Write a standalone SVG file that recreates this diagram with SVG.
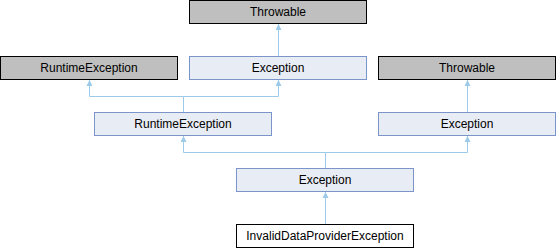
<svg xmlns="http://www.w3.org/2000/svg" width="557" height="248" viewBox="0 0 557 248">
  <style>
    .ext rect { fill: #bfbfbf; stroke: #000000; stroke-width: 1; }
    .cls rect { fill: #e8ecf5; stroke: #7b95cb; stroke-width: 1; }
    .cur rect { fill: #ffffff; stroke: #000000; stroke-width: 1; }
    text { font-family: "Liberation Sans", Arial, sans-serif; font-size: 12px; fill: #000000; text-anchor: middle; }
    .edge { fill: none; stroke: #9ccae8; stroke-width: 1; marker-end: url(#inherit); }
    .stub { fill: none; stroke: #9ccae8; stroke-width: 1; }
  </style>
  <defs>
    <!-- small filled head, pointing along the line toward the base class -->
    <marker id="inherit" viewBox="0 0 6 7" refX="6" refY="3.5" markerWidth="6" markerHeight="7" markerUnits="userSpaceOnUse" orient="auto">
      <path d="M0,0.5 L6,3.5 L0,6.5 Z" fill="#9ccae8"/>
    </marker>
  </defs>

  <!-- inheritance connectors -->
  <g id="connectors">
    <path class="edge" d="M278.5,56 V24"/>
    <path class="edge" d="M183.5,112 V96.5 H89.5 V80"/>
    <path class="edge" d="M183.5,96.5 H278.5 V80"/>
    <path class="edge" d="M467.5,112 V80"/>
    <path class="edge" d="M325.5,168 V152.5 H183.5 V136"/>
    <path class="edge" d="M325.5,152.5 H467.5 V136"/>
    <path class="edge" d="M325.5,224 V192"/>
  </g>

  <g id="throwable-top" class="ext">
    <rect x="189.5" y="0.5" width="177" height="23"/>
    <text x="278" y="16">Throwable</text>
  </g>
  <g id="runtime-exception-ext" class="ext">
    <rect x="0.5" y="56.5" width="177" height="23"/>
    <text x="89" y="72">RuntimeException</text>
  </g>
  <g id="exception-mid" class="cls">
    <rect x="189.5" y="56.5" width="177" height="23"/>
    <text x="278" y="72">Exception</text>
  </g>
  <g id="throwable-right" class="ext">
    <rect x="378.5" y="56.5" width="177" height="23"/>
    <text x="467" y="72">Throwable</text>
  </g>
  <g id="runtime-exception" class="cls">
    <rect x="94.5" y="112.5" width="177" height="23"/>
    <text x="183" y="128">RuntimeException</text>
  </g>
  <g id="exception-right" class="cls">
    <rect x="378.5" y="112.5" width="177" height="23"/>
    <text x="467" y="128">Exception</text>
  </g>
  <g id="exception" class="cls">
    <rect x="236.5" y="168.5" width="177" height="23"/>
    <text x="325" y="184">Exception</text>
  </g>
  <g id="invalid-data-provider-exception" class="cur">
    <rect x="236.5" y="224.5" width="177" height="23"/>
    <text x="325" y="240">InvalidDataProviderException</text>
  </g>
</svg>
